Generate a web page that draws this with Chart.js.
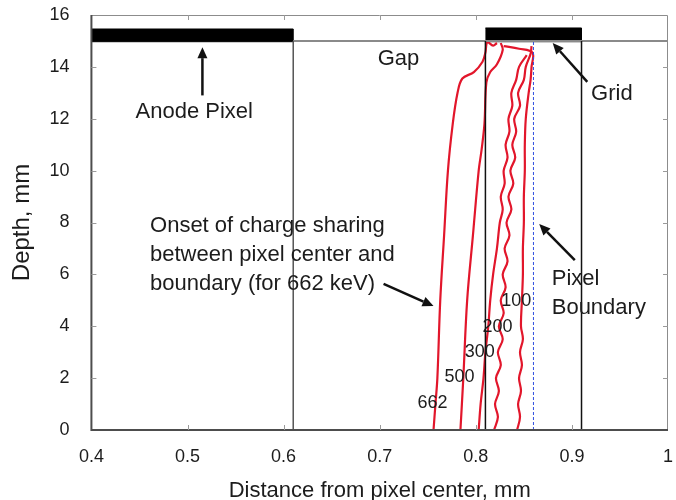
<!DOCTYPE html>
<html>
<head>
<meta charset="utf-8">
<script src="https://cdn.jsdelivr.net/npm/chart.js@4.4.1/dist/chart.umd.min.js"></script>
<style>
  body { margin: 0; background: #fff; }
  #wrap { width: 676px; height: 500px; }
</style>
</head>
<body>
<div id="wrap"><canvas id="myChart"></canvas></div>
<script>
// ticks
const xTicks = [0.4, 0.5, 0.6, 0.7, 0.8, 0.9, 1.0];
const xTickLabels = ['0.4', '0.5', '0.6', '0.7', '0.8', '0.9', '1'];
const yTicks = [0, 2, 4, 6, 8, 10, 12, 14, 16];

// curve names (keV)
const energies = ['662', '500', '300', '200', '100'];

// curves: distance from centre (mm) vs depth (mm)
const c662Dist  = [0.756, 0.758, 0.760, 0.763, 0.767, 0.771, 0.776, 0.781, 0.786, 0.798, 0.807, 0.810, 0.812, 0.818, 0.822];
const c662Depth = [0, 1, 2, 5, 7.5, 10, 11.8, 13.0, 13.55, 13.8, 14.2, 14.55, 14.95, 14.82, 14.92];

const c500Dist  = [0.784, 0.787, 0.791, 0.797, 0.803, 0.806, 0.809, 0.811, 0.815, 0.822, 0.828, 0.826];
const c500Depth = [0, 2, 5, 7.5, 10, 10.8, 11.8, 13.4, 13.8, 14.1, 14.65, 14.92];

const c300Dist  = [0.803, 0.805, 0.808, 0.810, 0.813, 0.815, 0.818, 0.822, 0.825, 0.828, 0.826, 0.830, 0.829, 0.833, 0.831, 0.835, 0.834, 0.838, 0.837, 0.842, 0.845, 0.853];
const c300Depth = [0, 1, 2, 3, 4, 5, 6, 7, 8, 8.5, 9, 9.5, 10, 10.5, 11, 11.5, 12, 12.5, 13, 13.5, 14, 14.45];

const c200Dist  = [0.819, 0.823, 0.820, 0.824, 0.821, 0.826, 0.823, 0.828, 0.824, 0.829, 0.826, 0.831, 0.828, 0.833, 0.830, 0.835, 0.832, 0.837, 0.834, 0.839, 0.836, 0.841, 0.838, 0.842, 0.840, 0.846, 0.844, 0.850, 0.852, 0.857, 0.858];
const c200Depth = [0, 0.5, 1, 1.5, 2, 2.5, 3, 3.5, 4, 4.5, 5, 5.5, 6, 6.5, 7, 7.5, 8, 8.5, 9, 9.5, 10, 10.5, 11, 11.5, 12, 12.5, 13, 13.5, 14, 14.5, 14.8];

const c100Dist  = [0.843, 0.846, 0.844, 0.847, 0.845, 0.848, 0.846, 0.849, 0.847, 0.848, 0.849, 0.849, 0.850, 0.850, 0.851, 0.851, 0.852, 0.855, 0.857, 0.858, 0.859, 0.845, 0.829];
const c100Depth = [0, 0.5, 1, 1.5, 2, 2.5, 3, 3.5, 4, 5, 6, 7, 8, 9, 10, 11, 12, 13, 13.5, 14, 14.55, 14.7, 14.8];

// detector structures
const anodeDist  = [0.4, 0.61, 0.61, 0.4];
const anodeDepth = [14.97, 14.97, 15.46, 15.46];
const gridDist   = [0.81, 0.91, 0.91, 0.81];
const gridDepth  = [14.97, 14.97, 15.5, 15.5];
const surfaceDist  = [0.61, 1.0];
const surfaceDepth = [15, 15];
const edgeDist = [0.61, 0.81, 0.91];
const edgeDepth = [0, 15];
const boundaryDist = 0.86;

const pts = (xs, ys) => xs.map((x, i) => ({ x: x, y: ys[i] }));
const RED = '#e2162b';
const FONT = '"Liberation Sans", Arial, sans-serif';

const curveSets = [
  [c662Dist, c662Depth], [c500Dist, c500Depth], [c300Dist, c300Depth],
  [c200Dist, c200Depth], [c100Dist, c100Depth]
];

const datasets = [];

edgeDist.forEach((d, i) => {
  datasets.push({
    label: 'edge' + i,
    data: pts([d, d], edgeDepth),
    borderColor: i === 0 ? '#555' : '#111',
    borderWidth: 1.5
  });
});

datasets.push({
  label: 'surface',
  data: pts(surfaceDist, surfaceDepth),
  borderColor: '#8a8a8a',
  borderWidth: 2
});

datasets.push({
  label: 'boundary',
  data: pts([boundaryDist, boundaryDist], edgeDepth),
  borderColor: '#3050e0',
  borderWidth: 1,
  borderDash: [3, 2]
});

curveSets.forEach((c, i) => {
  datasets.push({
    label: energies[i] + ' keV',
    data: pts(c[0], c[1]),
    borderColor: RED,
    borderWidth: 2.2,
    tension: 0.35
  });
});

datasets.push({
  label: 'Anode Pixel',
  data: pts(anodeDist, anodeDepth),
  borderColor: '#000',
  backgroundColor: '#000',
  borderWidth: 1,
  fill: 'shape'
});
datasets.push({
  label: 'Grid',
  data: pts(gridDist, gridDepth),
  borderColor: '#000',
  backgroundColor: '#000',
  borderWidth: 1,
  fill: 'shape'
});

datasets.forEach(ds => {
  ds.showLine = true;
  ds.pointRadius = 0;
  ds.pointHoverRadius = 0;
  if (!ds.fill) ds.fill = false;
});

// texts and arrows, placed in data units
const notes = [
  { t: 'Anode Pixel', x: 0.507, y: 12.26, align: 'center', size: 22 },
  { t: 'Gap', x: 0.7195, y: 14.3, align: 'center', size: 22 },
  { t: 'Grid', x: 0.920, y: 12.95, align: 'left', size: 22 },
  { t: 'Pixel', x: 0.879, y: 5.82, align: 'left', size: 22 },
  { t: 'Boundary', x: 0.879, y: 4.70, align: 'left', size: 22 },
  { t: 'Onset of charge sharing', x: 0.461, y: 7.86, align: 'left', size: 22 },
  { t: 'between pixel center and', x: 0.461, y: 6.75, align: 'left', size: 22 },
  { t: 'boundary (for 662 keV)', x: 0.461, y: 5.63, align: 'left', size: 22 }
];
const energyPos = [[0.755, 1.04], [0.783, 2.04], [0.804, 3.0], [0.8225, 3.97], [0.842, 4.97]];
const arrows = [
  { from: [0.5155, 12.9], to: [0.5155, 14.76] },
  { from: [0.916, 13.42], to: [0.880, 14.92] },
  { from: [0.903, 6.55], to: [0.866, 7.94] },
  { from: [0.704, 5.63], to: [0.756, 4.78] }
];

const overlay = {
  id: 'overlay',
  afterDatasetsDraw(chart) {
    const ctx = chart.ctx;
    const xs = chart.scales.x, ys = chart.scales.y;
    const a = chart.chartArea;
    ctx.save();

    // frame
    ctx.strokeStyle = '#8c8c8c';
    ctx.lineWidth = 1;
    ctx.beginPath();
    ctx.moveTo(a.left, a.top + 0.5);
    ctx.lineTo(a.right - 0.5, a.top + 0.5);
    ctx.lineTo(a.right - 0.5, a.bottom);
    ctx.stroke();
    ctx.strokeStyle = '#4d4d4d';
    ctx.lineWidth = 2;
    ctx.beginPath();
    ctx.moveTo(a.left, a.top);
    ctx.lineTo(a.left, a.bottom);
    ctx.lineTo(a.right, a.bottom);
    ctx.stroke();

    // inward ticks
    ctx.strokeStyle = '#9a9a9a';
    ctx.lineWidth = 1;
    ctx.beginPath();
    xTicks.slice(1, -1).forEach(v => {
      const px = Math.round(xs.getPixelForValue(v)) + 0.5;
      ctx.moveTo(px, a.bottom); ctx.lineTo(px, a.bottom - 5);
      ctx.moveTo(px, a.top); ctx.lineTo(px, a.top + 5);
    });
    yTicks.slice(1, -1).forEach(v => {
      const py = Math.round(ys.getPixelForValue(v)) + 0.5;
      ctx.moveTo(a.left, py); ctx.lineTo(a.left + 5, py);
      ctx.moveTo(a.right, py); ctx.lineTo(a.right - 5, py);
    });
    ctx.stroke();

    // arrows
    ctx.strokeStyle = '#111';
    ctx.fillStyle = '#111';
    ctx.lineWidth = 2.5;
    arrows.forEach(ar => {
      const x1 = xs.getPixelForValue(ar.from[0]), y1 = ys.getPixelForValue(ar.from[1]);
      const x2 = xs.getPixelForValue(ar.to[0]), y2 = ys.getPixelForValue(ar.to[1]);
      const ang = Math.atan2(y2 - y1, x2 - x1);
      const hl = 11, hw = 5;
      const bx = x2 - hl * Math.cos(ang), by = y2 - hl * Math.sin(ang);
      ctx.beginPath();
      ctx.moveTo(x1, y1); ctx.lineTo(bx, by);
      ctx.stroke();
      ctx.beginPath();
      ctx.moveTo(x2, y2);
      ctx.lineTo(bx + hw * Math.sin(ang), by - hw * Math.cos(ang));
      ctx.lineTo(bx - hw * Math.sin(ang), by + hw * Math.cos(ang));
      ctx.closePath();
      ctx.fill();
    });

    // texts
    ctx.fillStyle = '#1c1c1c';
    ctx.textBaseline = 'middle';
    notes.forEach(n => {
      ctx.font = n.size + 'px ' + FONT;
      ctx.textAlign = n.align;
      ctx.fillText(n.t, xs.getPixelForValue(n.x), ys.getPixelForValue(n.y));
    });
    ctx.font = '18px ' + FONT;
    ctx.textAlign = 'center';
    energies.forEach((e, i) => {
      ctx.fillText(e, xs.getPixelForValue(energyPos[i][0]), ys.getPixelForValue(energyPos[i][1]));
    });
    ctx.restore();
  }
};

Chart.defaults.font.family = FONT;
Chart.defaults.color = '#1c1c1c';

// hidden tick marks give the label gap without padding the chart edges
const hiddenGrid = (len) => ({
  display: true,
  drawOnChartArea: false,
  drawTicks: true,
  tickLength: len,
  color: 'rgba(0,0,0,0)'
});

new Chart(document.getElementById('myChart'), {
  type: 'scatter',
  data: { datasets: datasets },
  options: {
    responsive: true,
    maintainAspectRatio: false,
    animation: false,
    layout: { padding: { top: 15, right: 8, left: 5, bottom: 0 } },
    plugins: {
      legend: { display: false },
      tooltip: { enabled: false }
    },
    scales: {
      x: {
        type: 'linear',
        min: 0.4,
        max: 1.0,
        afterBuildTicks: s => { s.ticks = xTicks.map(v => ({ value: v })); },
        ticks: {
          padding: 0,
          font: { size: 18, lineHeight: 1 },
          callback: (v) => xTickLabels[xTicks.findIndex(t => Math.abs(t - v) < 1e-6)]
        },
        grid: hiddenGrid(18),
        border: { display: false },
        title: {
          display: true,
          text: 'Distance from pixel center, mm',
          font: { size: 22, lineHeight: 1 },
          padding: { top: 14, bottom: -2 }
        }
      },
      y: {
        type: 'linear',
        min: 0,
        max: 16,
        afterBuildTicks: s => { s.ticks = yTicks.map(v => ({ value: v })); },
        ticks: {
          padding: 0,
          font: { size: 18, lineHeight: 1 }
        },
        grid: hiddenGrid(22),
        border: { display: false },
        title: {
          display: true,
          text: 'Depth, mm',
          font: { size: 24, lineHeight: 1.1 },
          padding: { top: 4, bottom: 14 }
        }
      }
    }
  },
  plugins: [overlay]
});
</script>
</body>
</html>
